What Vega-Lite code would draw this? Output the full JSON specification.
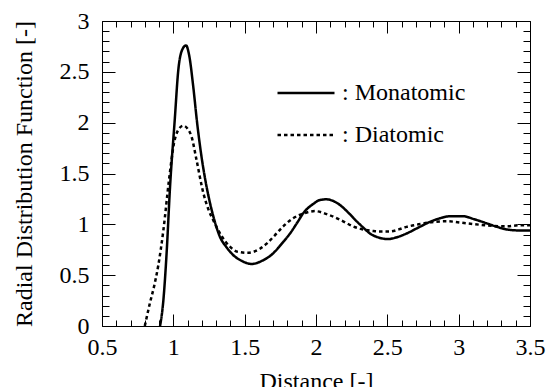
{
  "$schema": "https://vega.github.io/schema/vega-lite/v6.json",
  "width": 428,
  "height": 305,
  "autosize": "none",
  "padding": {"left": 102, "top": 21, "right": 17, "bottom": 61},
  "data": {
    "values": [
      {"d": 0.907, "g": 0.0, "s": "Monatomic"},
      {"d": 0.93, "g": 0.25, "s": "Monatomic"},
      {"d": 0.953, "g": 0.72, "s": "Monatomic"},
      {"d": 0.977, "g": 1.37, "s": "Monatomic"},
      {"d": 1.01, "g": 2.03, "s": "Monatomic"},
      {"d": 1.035, "g": 2.52, "s": "Monatomic"},
      {"d": 1.06, "g": 2.71, "s": "Monatomic"},
      {"d": 1.089, "g": 2.76, "s": "Monatomic"},
      {"d": 1.11, "g": 2.67, "s": "Monatomic"},
      {"d": 1.14, "g": 2.35, "s": "Monatomic"},
      {"d": 1.165, "g": 2.02, "s": "Monatomic"},
      {"d": 1.194, "g": 1.7, "s": "Monatomic"},
      {"d": 1.225, "g": 1.43, "s": "Monatomic"},
      {"d": 1.257, "g": 1.21, "s": "Monatomic"},
      {"d": 1.29, "g": 1.03, "s": "Monatomic"},
      {"d": 1.327, "g": 0.876, "s": "Monatomic"},
      {"d": 1.37, "g": 0.78, "s": "Monatomic"},
      {"d": 1.418, "g": 0.7, "s": "Monatomic"},
      {"d": 1.48, "g": 0.64, "s": "Monatomic"},
      {"d": 1.549, "g": 0.61, "s": "Monatomic"},
      {"d": 1.62, "g": 0.64, "s": "Monatomic"},
      {"d": 1.7, "g": 0.715, "s": "Monatomic"},
      {"d": 1.76, "g": 0.81, "s": "Monatomic"},
      {"d": 1.818, "g": 0.91, "s": "Monatomic"},
      {"d": 1.87, "g": 1.02, "s": "Monatomic"},
      {"d": 1.911, "g": 1.11, "s": "Monatomic"},
      {"d": 1.98, "g": 1.2, "s": "Monatomic"},
      {"d": 2.03, "g": 1.24, "s": "Monatomic"},
      {"d": 2.075, "g": 1.246, "s": "Monatomic"},
      {"d": 2.12, "g": 1.23, "s": "Monatomic"},
      {"d": 2.168, "g": 1.19, "s": "Monatomic"},
      {"d": 2.23, "g": 1.11, "s": "Monatomic"},
      {"d": 2.285, "g": 1.03, "s": "Monatomic"},
      {"d": 2.33, "g": 0.97, "s": "Monatomic"},
      {"d": 2.378, "g": 0.91, "s": "Monatomic"},
      {"d": 2.44, "g": 0.87, "s": "Monatomic"},
      {"d": 2.507, "g": 0.855, "s": "Monatomic"},
      {"d": 2.56, "g": 0.87, "s": "Monatomic"},
      {"d": 2.635, "g": 0.91, "s": "Monatomic"},
      {"d": 2.72, "g": 0.97, "s": "Monatomic"},
      {"d": 2.8, "g": 1.025, "s": "Monatomic"},
      {"d": 2.87, "g": 1.06, "s": "Monatomic"},
      {"d": 2.94, "g": 1.08, "s": "Monatomic"},
      {"d": 3.03, "g": 1.08, "s": "Monatomic"},
      {"d": 3.11, "g": 1.05, "s": "Monatomic"},
      {"d": 3.196, "g": 1.01, "s": "Monatomic"},
      {"d": 3.27, "g": 0.975, "s": "Monatomic"},
      {"d": 3.336, "g": 0.95, "s": "Monatomic"},
      {"d": 3.42, "g": 0.94, "s": "Monatomic"},
      {"d": 3.5, "g": 0.94, "s": "Monatomic"},
      {"d": 0.8, "g": 0.0, "s": "Diatomic"},
      {"d": 0.836, "g": 0.226, "s": "Diatomic"},
      {"d": 0.865, "g": 0.39, "s": "Diatomic"},
      {"d": 0.895, "g": 0.6, "s": "Diatomic"},
      {"d": 0.93, "g": 0.94, "s": "Diatomic"},
      {"d": 0.97, "g": 1.44, "s": "Diatomic"},
      {"d": 1.005, "g": 1.8, "s": "Diatomic"},
      {"d": 1.035, "g": 1.93, "s": "Diatomic"},
      {"d": 1.07, "g": 1.97, "s": "Diatomic"},
      {"d": 1.1, "g": 1.94, "s": "Diatomic"},
      {"d": 1.128, "g": 1.86, "s": "Diatomic"},
      {"d": 1.163, "g": 1.63, "s": "Diatomic"},
      {"d": 1.21, "g": 1.31, "s": "Diatomic"},
      {"d": 1.245, "g": 1.15, "s": "Diatomic"},
      {"d": 1.28, "g": 1.04, "s": "Diatomic"},
      {"d": 1.34, "g": 0.88, "s": "Diatomic"},
      {"d": 1.397, "g": 0.78, "s": "Diatomic"},
      {"d": 1.45, "g": 0.73, "s": "Diatomic"},
      {"d": 1.52, "g": 0.72, "s": "Diatomic"},
      {"d": 1.607, "g": 0.76, "s": "Diatomic"},
      {"d": 1.654, "g": 0.81, "s": "Diatomic"},
      {"d": 1.71, "g": 0.89, "s": "Diatomic"},
      {"d": 1.77, "g": 0.98, "s": "Diatomic"},
      {"d": 1.84, "g": 1.06, "s": "Diatomic"},
      {"d": 1.92, "g": 1.11, "s": "Diatomic"},
      {"d": 1.993, "g": 1.13, "s": "Diatomic"},
      {"d": 2.075, "g": 1.1, "s": "Diatomic"},
      {"d": 2.13, "g": 1.07, "s": "Diatomic"},
      {"d": 2.19, "g": 1.03, "s": "Diatomic"},
      {"d": 2.26, "g": 0.98, "s": "Diatomic"},
      {"d": 2.33, "g": 0.95, "s": "Diatomic"},
      {"d": 2.4, "g": 0.935, "s": "Diatomic"},
      {"d": 2.448, "g": 0.93, "s": "Diatomic"},
      {"d": 2.52, "g": 0.93, "s": "Diatomic"},
      {"d": 2.58, "g": 0.95, "s": "Diatomic"},
      {"d": 2.635, "g": 0.975, "s": "Diatomic"},
      {"d": 2.72, "g": 1.0, "s": "Diatomic"},
      {"d": 2.8, "g": 1.02, "s": "Diatomic"},
      {"d": 2.915, "g": 1.03, "s": "Diatomic"},
      {"d": 3.055, "g": 1.01, "s": "Diatomic"},
      {"d": 3.196, "g": 0.99, "s": "Diatomic"},
      {"d": 3.336, "g": 0.98, "s": "Diatomic"},
      {"d": 3.42, "g": 0.99, "s": "Diatomic"},
      {"d": 3.5, "g": 0.99, "s": "Diatomic"}
    ]
  },
  "layer": [
    {
      "mark": {"type": "line", "interpolate": "monotone", "color": "black", "strokeWidth": 2.5},
      "encoding": {
        "x": {"field": "d", "type": "quantitative", "scale": {"domain": [0.5, 3.5], "nice": false, "zero": false},
          "axis": {"title": "Distance  [-]", "tickCount": 30, "labelExpr": "abs(datum.value*2 - round(datum.value*2)) < 0.01 ? format(datum.value, '~g') : ''", "domainColor": "black", "grid": false, "tickColor": "black", "tickSize": {"condition": {"test": "abs(datum.value*2 - round(datum.value*2)) > 0.01", "value": -6}, "value": -12}, "labelPadding": 21, "labelFlush": false, "labelOverlap": false, "labelFont": "Liberation Serif", "labelFontSize": 24, "labelColor": "black", "titleFont": "Liberation Serif", "titleFontSize": 24, "titleFontWeight": "normal", "titleColor": "black", "titlePadding": 4}},
        "y": {"field": "g", "type": "quantitative", "scale": {"domain": [0, 3], "nice": false},
          "axis": {"title": "Radial Distribution Function [-]", "tickCount": 30, "labelExpr": "abs(datum.value*2 - round(datum.value*2)) < 0.01 ? format(datum.value, '~g') : ''", "domainColor": "black", "grid": false, "tickColor": "black", "tickSize": {"condition": {"test": "abs(datum.value*2 - round(datum.value*2)) > 0.01", "value": -7}, "value": -13}, "labelPadding": 26, "labelFlush": false, "labelOverlap": false, "labelFont": "Liberation Serif", "labelFontSize": 24, "labelColor": "black", "titleFont": "Liberation Serif", "titleFontSize": 24, "titleFontWeight": "normal", "titleColor": "black", "titlePadding": 23}},
        "strokeDash": {"field": "s", "type": "nominal",
          "scale": {"domain": ["Monatomic", "Diatomic"], "range": [[1, 0], [3.5, 3]]},
          "legend": {"title": null, "orient": "none", "legendX": 174, "legendY": 42, "symbolType": "stroke", "symbolSize": 3249, "symbolStrokeWidth": 2.5, "symbolStrokeColor": "black", "rowPadding": -22, "labelOffset": 6, "labelFont": "Liberation Serif", "labelFontSize": 24, "labelColor": "black", "labelExpr": "': ' + datum.label"}}
      }
    },
    {
      "mark": {"type": "line", "opacity": 0},
      "encoding": {
        "x": {"field": "d", "type": "quantitative", "axis": {"orient": "top", "title": null, "labels": false, "tickCount": 30, "domainColor": "black", "grid": false, "tickColor": "black", "tickSize": {"condition": {"test": "abs(datum.value*2 - round(datum.value*2)) > 0.01", "value": -6}, "value": -12}}},
        "y": {"field": "g", "type": "quantitative", "axis": {"orient": "right", "title": null, "labels": false, "tickCount": 30, "domainColor": "black", "grid": false, "tickColor": "black", "tickSize": {"condition": {"test": "abs(datum.value*2 - round(datum.value*2)) > 0.01", "value": -7}, "value": -13}}}
      }
    }
  ],
  "resolve": {"axis": {"x": "independent", "y": "independent"}}
}
